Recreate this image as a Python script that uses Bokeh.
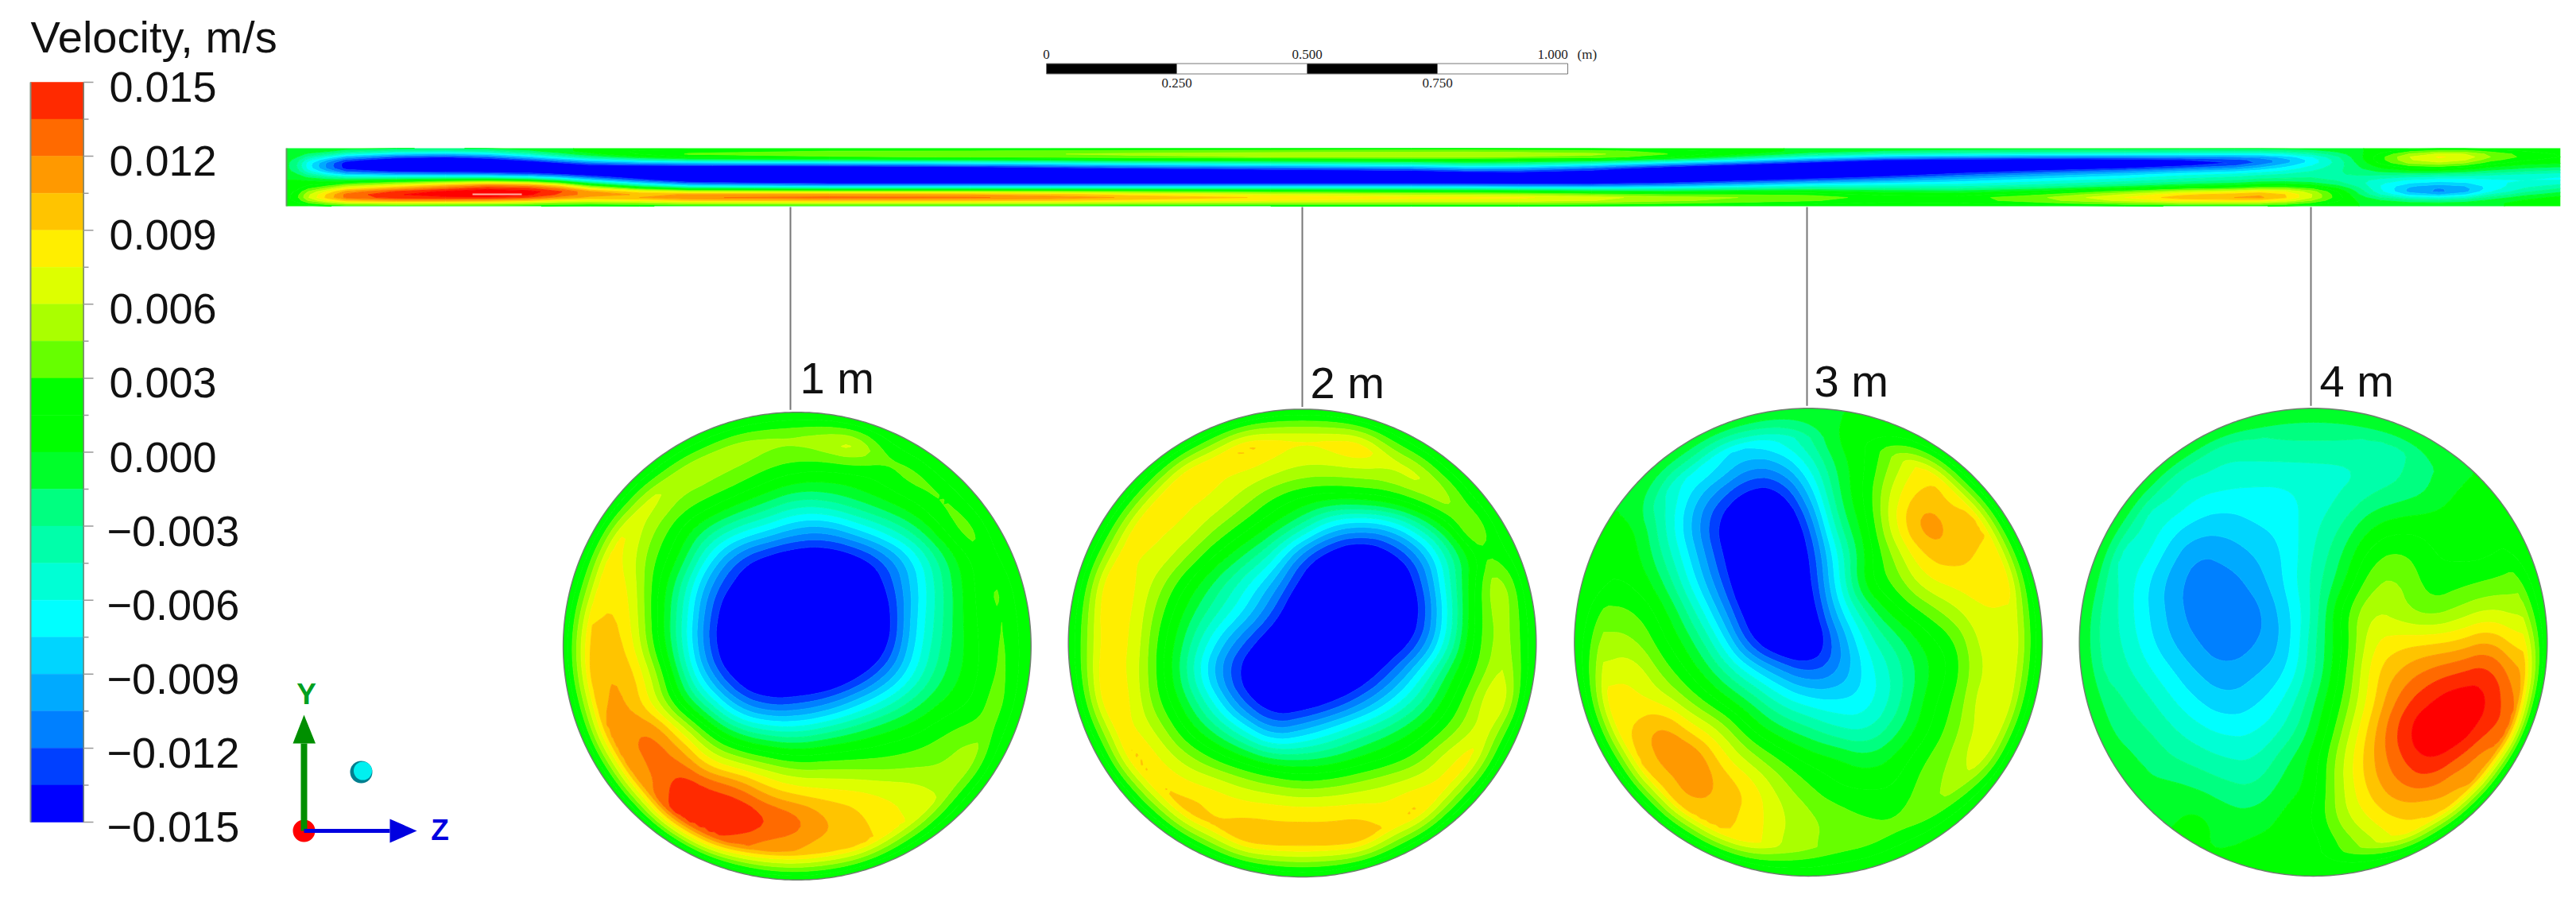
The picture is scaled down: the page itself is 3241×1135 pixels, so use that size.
import numpy as np
from bokeh.plotting import figure
from bokeh.models import Range1d
from bokeh.core.properties import value
from bokeh.embed import file_html
from bokeh.resources import INLINE

# ---------- colour scale ----------
title = "Velocity, m/s"
tick_labels = ["0.015", "0.012", "0.009", "0.006", "0.003", "0.000", "\u22120.003", "\u22120.006", "\u22120.009", "\u22120.012", "\u22120.015"]
scale_min, scale_max, scale_step = -15.0, 15.0, 1.5   # mm/s
band_colors = ["#ff2a00", "#ff6a00", "#ff9900", "#ffc400", "#ffee00", "#ddff00", "#aaff00", "#66ff00", "#00ff00", "#00ff00",
               "#00ff2a", "#00ff80", "#00ffaa", "#00ffd5", "#00ffff", "#00d5ff", "#00aaff", "#0080ff", "#0040ff", "#0000ff"]
over_color = "#ff0000"

# ---------- velocity on the 1 m .. 4 m cross-sections, mm/s (rows top to bottom) ----------
disc_labels = ["1 m", "2 m", "3 m", "4 m"]
disc_1 = [
 [0]*17,
 [0,0,0,0,2,4,4.5,5,5,6,6.5,3.5,2,0,0,0,0],
 [0,0,0,2,5,5.5,4.5,3,2,1.5,1.5,2.5,3.5,3.5,0,0,0],
 [0,0,5,7,4.5,3,1,-1,-3,-2.5,-1,0.5,2,3.5,3.5,0,0],
 [0,3,7,5,1.5,-2,-5,-7,-9.5,-10,-7.5,-5,-2,2,3.8,2,0],
 [0,4,8,3.5,0,-7,-12.5,-15,-16,-16,-15,-12,-7.5,-2,2,4,0],
 [0,5.5,9,3,-3,-11,-15,-17,-17,-17,-17,-14,-8.5,-3,1.5,3,0],
 [0,8.5,9.5,3,-4,-12.5,-17,-17,-17,-17,-17,-15.5,-8,-3,1.5,3,0],
 [0,9.5,10,3.5,-4,-13,-17,-17,-17,-17,-17,-15,-7.5,-2.5,1,3.5,0],
 [0,9.5,11,6.5,-2,-10.5,-15.5,-17,-17,-17,-15,-11,-6,-1.5,1,3.5,0],
 [0,7,11.5,7.5,1,-4,-10.5,-13,-12.5,-11,-8,-5,-2,0.5,1.5,3.5,0],
 [0,6,11,13.5,8.5,2.5,-1.5,-3.5,-4,-2.5,-1,0.5,1.5,3,4,3.5,0],
 [0,0,8.5,12.5,13,8,6,4.5,3.2,3.5,3.5,3.5,4,4.5,5,2,0],
 [0,0,3,10.5,15.5,15,13.5,10,8.5,8.2,8,7.5,7,5.5,3,0,0],
 [0,0,0,3,11,13.5,15.5,14.5,13.5,11,9.8,8,6,3.5,0,0,0],
 [0,0,0,0,3,5.5,8.5,10,10,9,7.5,5,2,0,0,0,0],
 [0]*17,
]
disc_2 = [
 [0]*17,
 [0,0,0,0,3,5.5,7,7,7,7,7,6.5,3,0,0,0,0],
 [0,0,0,4,7,8,7.8,7,6,6,6.2,6.2,5.5,3,0,0,0],
 [0,0,3,7,8,7.5,5.5,3,1.5,1,1.5,2.5,4.5,5.5,4,0,0],
 [0,0,6,8,7.5,5,2.5,0,-3,-8,-9.5,-8.5,-4,1,5,3,0],
 [0,3.5,7.5,7.5,5,1.5,-1.5,-5,-12,-15.5,-17,-15,-11,-4,1.5,5,0],
 [0,6,8.5,5.5,1.5,-2,-5.5,-9.5,-15,-17,-17,-17,-13.5,-5,2.5,5,0],
 [0,6.5,8.5,4,-0.5,-4,-7.5,-12.5,-17,-17,-17,-17,-14.5,-6,2.8,5,0],
 [0,6.5,8.5,3,-2,-7.5,-12.5,-16,-17,-17,-17,-16,-13,-5,3,5,0],
 [0,7,8,3,-3,-10,-15,-17,-17,-17,-16,-12.5,-7,-1,3.5,5.5,0],
 [0,6.5,8.2,3.5,-1,-6.5,-13,-16,-16,-14.5,-11.5,-7.5,-3.5,1,5.5,6.5,0],
 [0,5.5,8,6,1.5,-2,-6,-11,-9,-6.5,-4,-2,0.5,3.5,6.5,6,0],
 [0,0,7.5,8,5.5,3,1,-1,-1.5,-1,0.5,2,4,7.5,6.5,3,0],
 [0,0,3,8,8.5,8,6.5,5.5,4.5,5,6,7,7.8,7,4,0,0],
 [0,0,0,4,7.5,8.8,9.1,9.3,9.4,9.3,9.1,8,7.5,5,0,0,0],
 [0,0,0,0,3,5.5,7.5,8,8.5,8,7.5,6,3,0,0,0,0],
 [0]*17,
]
disc_3 = [
 [0]*17,
 [0,0,0,0,0,-1.5,-4.5,-5,-3,0.5,1,3.5,1.5,0,0,0,0],
 [0,0,0,-1.5,-4,-7,-10.5,-10,-6,-1,1.5,5.5,7,3.5,0,0,0],
 [0,0,1,-3.5,-8,-12,-15,-15,-9.5,-1.5,2,7.5,10,7.5,2.5,0,0],
 [0,0,0.5,-4,-9.5,-14.5,-17,-17,-13,-3,1,8,12.3,10,7.5,2,0],
 [0,2,1,-3,-8,-13.5,-17,-17,-14.5,-6,0.5,5,9.5,10,8.5,6,0],
 [0,1,1.5,-1,-6.5,-12,-17,-17,-15,-6.5,1.5,3.5,7,8,8.5,6.5,0],
 [0,3.5,3.3,1,-3.5,-9.5,-15.5,-17,-16,-8.5,-3,1,3,5.5,7.5,6.5,0],
 [0,5,5,2,-1,-6,-13.5,-17,-17,-11.5,-5.5,-2.5,0.5,2.5,7,7,0],
 [0,6,7.5,4,1,-2.5,-6.5,-10,-12.5,-11,-7,-4,-0.5,2,6.5,6.5,0],
 [0,6.5,8,7,4,1,-1.5,-5,-7,-7.5,-7,-4,0.5,3,7.5,5.5,0],
 [0,3,9,12,8.5,6,1.5,-1,-2.5,-4.5,-5,-2,1,4,7,4.5,0],
 [0,0,6.5,11.5,13,8.5,5.5,3,1,0.5,-1,0.5,3,5,6.5,2,0],
 [0,0,1.5,7.5,12,10.5,8.8,5.5,3.3,1.5,1.5,1.5,4,5,3.5,0,0],
 [0,0,0,2.5,7,9.5,8.5,6.5,5,4,3,3,3.5,3,0,0,0],
 [0,0,0,0,1.5,5,6.5,5.5,4.8,3.5,3,2.5,1,0,0,0,0],
 [0]*17,
]
disc_4 = [
 [0]*17,
 [0,0,0,0,-0.5,-2,-2.5,-2.5,-2.5,-2.5,-2.5,-1.5,0,0,0,0,0],
 [0,0,0,-1,-3.5,-4.5,-5,-5,-5,-5,-4.5,-3.5,-1.5,0.5,0,0,0],
 [0,0,-1,-3.5,-6,-6.5,-6.5,-6.5,-5.5,-4.5,-3,-2.2,-1.5,0.5,0.5,0,0],
 [0,0,-3.5,-6.5,-8,-8.5,-7.5,-7,-5,-3,0,1,1,1,1,0.5,0],
 [0,-1.5,-5,-8,-10.8,-10,-9,-7.5,-4.5,-1.5,2.5,3.5,1.5,1,1,1,0],
 [0,-3,-6.5,-9.5,-11.5,-11.5,-10,-7.5,-4,-0.5,4.5,5,2,2.5,3.2,3.5,0],
 [0,-3.5,-6.5,-9.3,-11.5,-11.9,-11.5,-8.5,-4.5,2.5,6.5,4.8,3.5,5,6.5,5.5,0],
 [0,-3.5,-6,-8.8,-10.5,-11.9,-10.8,-9,-3.5,1.5,7.5,8.5,8.8,9.2,11,8,0],
 [0,-3,-5,-7,-9.2,-10.2,-9.3,-8,-3.5,2,8.5,10.8,12.5,13.5,14.6,10.5,0],
 [0,-2,-3.5,-5.5,-7.5,-8.8,-8,-6,-2,3,8.5,12.8,15,16.5,15.5,10,0],
 [0,-0.5,-2.5,-4,-5.5,-6.5,-6.3,-4.5,-1,4.5,10,14.5,17,17,13.5,7.5,0],
 [0,0,-1,-2.8,-3.6,-4.5,-4.7,-2,0.5,6,10.5,13.5,15.7,13.2,10,3,0],
 [0,0,-0.3,-0.8,-1.5,-2.5,-3,-0.8,0.5,6,9.8,12,12.2,9.5,6,0,0],
 [0,0,0,0,0.8,-0.8,-1,0.5,1.5,5.5,8,9.2,8,5.5,0,0,0],
 [0,0,0,0,0,0.5,0.5,0.5,0.5,3,4.5,4.5,2.5,0,0,0,0],
 [0]*17,
]

# ---------- velocity on the longitudinal section, mm/s ----------
strip_stations_m = [0, 0.042, 0.115, 0.305, 0.465, 0.582, 0.772, 1.311, 1.618, 2.157, 2.363, 2.643,
                    2.924, 3.204, 3.526, 3.736, 3.834, 3.933, 4.017, 4.128, 4.227, 4.361]
strip_rows = [
 [0]*22,
 [0,-1,-4,-13,-3,1,6,6,7,8,8,6,-2,-5,-6,-7,-7,-2,1,9.5,5,1],
 [0,-5,-15,-18,-14,-7,-1,0,1,2,1,1,-13,-17,-16,-14,-11.5,-4,3,10.5,3,1],
 [0,-7,-16,-18,-18,-15,-16,-14,-11,-8,-3,-16,-17,-18,-17,-13,-8,-4,1,5,0,-1],
 [0,-5,-15,-16,-16,-16,-18,-18,-16,-16,-13,-17,-18,-16,-10,-7,-6,-3,-1,0,-2,-4],
 [0,-1,-5,-5,-8,-14,-18,-18,-18,-18,-16,-17,-17,-10,-6,-4,-3,-3,-4,-6,-6,-7],
 [0,1,1,8,11,-2,-17,-16,-17,-16,-17,-16,-8,-7,-4,-2,-1,-3,-6,-9,-6,-5],
 [0,2,8,14,16,10,-3,-3,-3,-3,-5,-6,-1,-5,1,3,6,1,-6,-14,-7,-2],
 [0,6,15,18,18,11,14,14,11,6,8,3,5,-1,8,12,12,2,-5,-13,-4,0],
 [0,5,12,12,10,6,11,11,10,8,9.5,6,4,1,9,10,9,1,-1,-3,-0.5,2],
 [0]*22,
]

# ---------- scale bar ----------
scalebar_upper = [(0.0, "0"), (0.5, "0.500")]
scalebar_lower = [(0.25, "0.250"), (0.75, "0.750")]
scalebar_end_label = "1.000"
scalebar_unit = "(m)"
scalebar_cuts = [0.0, 0.25, 0.5, 0.75, 1.0]

W, H = 3225, 1119
p = figure(width=W, height=H, x_range=Range1d(0, W), y_range=Range1d(H, 0),
           output_backend="svg", toolbar_location=None, min_border=0)
p.xaxis.visible = False
p.yaxis.visible = False
p.grid.visible = False
p.outline_line_color = None
p.background_fill_color = "white"
p.border_fill_color = "white"

SANS = value("Liberation Sans")
NARROW = value("Liberation Sans Narrow")
levels = [-40.0] + [float(v) for v in np.arange(scale_min + scale_step, scale_max + scale_step / 2, scale_step)] + [40.0]
fills = list(reversed(band_colors)) + [over_color]


def bands(x, y, z):
    p.contour(x, y, z, levels, fill_color=fills, line_color=fills[:-1] + [fills[-1], fills[-1]], line_width=1)


def smooth_axis(a, width, axis):
    kernel = np.ones(width) / width
    pad = width // 2
    def one(v):
        return np.convolve(np.pad(v, pad, mode="edge"), kernel, mode="valid")
    return np.apply_along_axis(one, axis, a)


def refine(x, y, z, f):
    """Shading: rendered on a finer mesh so that the bands are rounded like the solver's."""
    z = np.asarray(z, dtype=float)
    ix = np.arange((len(x) - 1) * f + 1) / f
    iy = np.arange((len(y) - 1) * f + 1) / f
    fx = np.interp(ix, np.arange(len(x)), x)
    fy = np.interp(iy, np.arange(len(y)), y)
    a = np.array([np.interp(ix, np.arange(len(x)), r) for r in z])
    a = np.array([np.interp(iy, np.arange(len(y)), c) for c in a.T]).T
    a = smooth_axis(smooth_axis(a, f + 1, 0), f + 1, 1)
    return fx, fy, a


# longitudinal section
STRIP_X0, STRIP_PX_PER_M, STRIP_TOP, STRIP_BOTTOM = 360, 656, 186, 259
sx = STRIP_X0 + STRIP_PX_PER_M * np.array(strip_stations_m)
sy = np.linspace(STRIP_TOP, STRIP_BOTTOM, len(strip_rows))
bands(*refine(sx, sy, strip_rows, 2))
p.segment([STRIP_X0], [STRIP_TOP], [STRIP_X0], [STRIP_BOTTOM], line_color="#5f9f5f", line_width=2)
p.segment([594], [244], [656], [244], line_color="#ffb0a0", line_width=2)

# cross-sections
R = 294.3
centers = [(1002.4, 812.5), (1638, 808.7), (2274.7, 807.6), (2910, 807.6)]
line_x = [994, 1638, 2273, 2907]
label_x = [1006, 1648, 2282, 2918]
label_y = [475, 481, 479, 479]
wall = [0.12, 0.14, 0.12, 0.10]
th = np.linspace(0, 2 * np.pi, 361)
for k, grid in enumerate([disc_1, disc_2, disc_3, disc_4]):
    cx, cy = centers[k]
    gx = np.linspace(-1, 1, 17)
    gy = np.linspace(-1, 1, 17)
    X, Y = np.meshgrid(gx, gy)
    rr = np.hypot(X, Y)
    z = np.array(grid, dtype=float)
    # no-slip wall: undo the wall layer in the near-wall readings, re-applied after refinement
    d = wall[k]
    t = np.clip((1 - rr) / d, 0.5, 1)
    z = z / t
    bad = rr >= 0.93
    for _ in range(6):
        newz = z.copy()
        newbad = bad.copy()
        for j in range(17):
            for i in range(17):
                if bad[j, i]:
                    jj = [(j + a, i + b) for a in (-1, 0, 1) for b in (-1, 0, 1)
                          if 0 <= j + a < 17 and 0 <= i + b < 17 and not bad[j + a, i + b]]
                    if jj:
                        newz[j, i] = np.mean([z[q] for q in jj])
                        newbad[j, i] = False
        z, bad = newz, newbad
    fx, fy, a = refine(gx, gy, z, 6)
    FX, FY = np.meshgrid(fx, fy)
    a = a * np.clip((1 - np.hypot(FX, FY)) / d, 0, 1)
    p.segment([line_x[k]], [STRIP_BOTTOM + 1], [line_x[k]], [cy - R], line_color="#777777", line_width=2)
    bands(cx + R * fx, cy + R * fy, a)
    m = R + 3
    square_x = [cx - m, cx + m, cx + m, cx - m]
    square_y = [cy - m, cy - m, cy + m, cy + m]
    hole_x = list(cx + R * np.cos(th))
    hole_y = list(cy + R * np.sin(th))
    p.multi_polygons(xs=[[[square_x, hole_x]]], ys=[[[square_y, hole_y]]], fill_color="white", line_color=None)
    p.line(hole_x, hole_y, line_color="#6f7f6f", line_width=1.5)
    p.text([label_x[k]], [label_y[k]], text=[disc_labels[k]], text_font=SANS, text_font_size="56px",
           text_color="#111111", text_baseline="middle")

# colour bar
BAR_L, BAR_R, BAR_T, BAR_B = 38, 104.6, 103, 1034
n = len(band_colors)
edges = np.linspace(BAR_T, BAR_B, n + 1)
p.quad(left=[BAR_L] * n, right=[BAR_R] * n, top=list(edges[:-1]), bottom=list(edges[1:]),
       fill_color=band_colors, line_color=band_colors, line_width=0.5)
p.line([BAR_L, BAR_L], [BAR_T, BAR_B], line_color="#7f8f7f", line_width=2)
p.line([BAR_R, BAR_R], [BAR_T, BAR_B], line_color="#6f7f6f", line_width=1.5)
for i, e in enumerate(edges):
    p.segment([BAR_R], [e], [117 if i % 2 == 0 else 111], [e], line_color="#999999", line_width=1.5)
label_ys = edges[::2]
for lab, ly in zip(tick_labels, label_ys):
    p.text([134 if lab.startswith("\u2212") else 137], [ly + 6], text=[lab], text_font=SANS, text_font_size="54px",
           text_color="#111111", text_baseline="middle")
p.text([38], [46], text=[title], text_font=SANS, text_font_size="56px", text_color="#111111", text_baseline="middle")

# scale bar
SB_X0, SB_LEN, SB_T, SB_B = 1316, 656, 79.5, 92.5
for i in range(4):
    c = "black" if i % 2 == 0 else "white"
    p.quad(left=[SB_X0 + SB_LEN * scalebar_cuts[i]], right=[SB_X0 + SB_LEN * scalebar_cuts[i + 1]], top=[SB_T], bottom=[SB_B],
           fill_color=c, line_color="#777777", line_width=1)
for pos, lab in scalebar_upper:
    p.text([SB_X0 + SB_LEN * pos], [68], text=[lab], text_font=NARROW, text_font_size="17px", text_color="#222222",
           text_align="center", text_baseline="middle")
for pos, lab in scalebar_lower:
    p.text([SB_X0 + SB_LEN * pos], [104], text=[lab], text_font=NARROW, text_font_size="17px", text_color="#222222",
           text_align="center", text_baseline="middle")
p.text([1953], [68], text=[scalebar_end_label], text_font=NARROW, text_font_size="17px", text_color="#222222",
       text_align="center", text_baseline="middle")
p.text([1984], [68], text=[scalebar_unit], text_font=NARROW, text_font_size="17px", text_color="#222222", text_baseline="middle")

# axis triad
OX, OY = 382, 1045
p.circle([OX], [OY], radius=14, fill_color="#ff0000", line_color=None)
p.segment([OX], [OY], [OX], [935], line_color="#008f00", line_width=8)
p.patch([OX, 368, 396.5], [899, 935, 935], fill_color="#008f00", line_color=None)
p.segment([OX], [OY], [490], [OY], line_color="#0000e0", line_width=5)
p.patch([524, 490, 490], [OY, OY - 15, OY + 15], fill_color="#0000e0", line_color=None)
p.text([385], [873], text=["Y"], text_font=SANS, text_font_size="37px", text_font_style="bold", text_color="#00a020",
       text_align="center", text_baseline="middle")
p.text([553], [1044], text=["Z"], text_font=SANS, text_font_size="37px", text_font_style="bold", text_color="#0000e0",
       text_align="center", text_baseline="middle")
p.circle([454], [971], radius=14, fill_color="#007f8f", line_color=None)
p.circle([456], [969.5], radius=11.5, fill_color="#00f0f0", line_color=None)

open("out.html", "w").write(file_html(p, INLINE))
